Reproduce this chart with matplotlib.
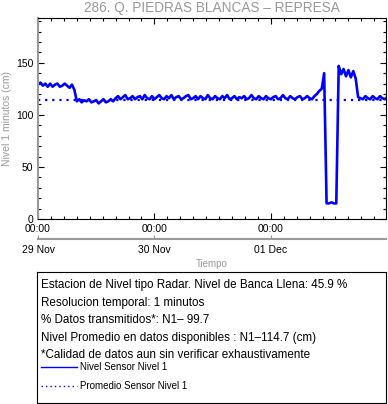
import numpy as np
import matplotlib.pyplot as plt
from matplotlib.ticker import MultipleLocator, FixedLocator

plt.rcParams['font.family'] = ['Liberation Sans', 'DejaVu Sans']

# ---- datos ----
titulo = '286. Q. PIEDRAS BLANCAS \u2013 REPRESA'
horas = np.arange(0, 72.01, 0.5)  # horas desde 29 Nov 00:00, cada 30 min
nivel = [129, 131, 128, 130, 127, 130, 127, 129, 130, 127, 128, 130, 128, 126, 129, 124,
         113, 115, 112, 114, 113, 115, 112, 113, 114, 111, 113, 115, 112, 113, 115, 113,
         116, 118, 115, 117, 119, 115, 116, 118, 115, 117, 118, 115, 119, 116, 115, 118, 115, 117, 119, 116,
         115, 118, 116, 119, 115, 117, 118, 115, 116, 118, 119, 115, 116, 118, 115, 118, 116, 115, 119, 116,
         115, 118, 116, 115, 118, 116, 119, 115, 116, 118, 115, 117, 116, 118, 115, 116, 119, 116, 115, 118,
         116, 115, 118, 116, 115, 117, 118, 115, 116, 119, 116, 115, 118, 116, 115, 117, 118, 115, 116, 118,
         116, 115, 118,
         120, 123, 125, 140, 15, 15, 16, 15, 15, 147, 139, 144, 137, 143, 136, 142, 135, 117,
         116, 115, 118, 116, 115, 118, 116, 115, 118, 116, 115, 117]
promedio = 114.7
dias_pos = [0, 24, 48]
horas_lbl = ['00:00', '00:00', '00:00']
dias_lbl = ['29 Nov', '30 Nov', '01 Dec']
info = ['Estacion de Nivel tipo Radar. Nivel de Banca Llena: 45.9 %',
        'Resolucion temporal: 1 minutos',
        '% Datos transmitidos*: N1\u2013 99.7',
        'Nivel Promedio en datos disponibles : N1\u2013114.7 (cm)',
        '*Calidad de datos aun sin verificar exhaustivamente']
leyenda = ['Nivel Sensor Nivel 1', 'Promedio Sensor Nivel 1']

gris = '#999999'
azul = '#0000ff'
W, H = 388, 404

fig = plt.figure(figsize=(W / 100, H / 100), dpi=100)
ax = fig.add_axes([38 / W, 1 - 219 / H, 348 / W, 201 / H])

l1, = ax.plot(horas, nivel, color=azul, lw=1.9)
l2 = ax.axhline(promedio, color=azul, lw=1.6, ls=(0, (1, 2.2)))

ax.set_xlim(0, 71.75)
ax.set_ylim(0, 193)
ax.yaxis.set_major_locator(FixedLocator([0, 50, 100, 150]))
ax.yaxis.set_minor_locator(MultipleLocator(10))
ax.xaxis.set_major_locator(FixedLocator(dias_pos))
ax.xaxis.set_minor_locator(MultipleLocator(24 / 9))
ax.set_xticklabels(horas_lbl)
ax.tick_params(which='both', direction='in', top=True, right=True, labelsize=7.5, pad=3.5)
ax.tick_params(which='major', length=4, width=0.8)
ax.tick_params(which='minor', length=2.5, width=0.8)
for s in ax.spines.values():
    s.set_linewidth(0.8)
ax.spines['left'].set_color(gris)
ax.spines['left'].set_linewidth(1.5)

# segundo nivel del eje de tiempo
sec = ax.secondary_xaxis(-20 / 201)
sec.set_xticks(dias_pos)
sec.set_xticklabels(dias_lbl)
sec.spines['bottom'].set_color(gris)
sec.spines['bottom'].set_linewidth(1.5)
sec.tick_params(direction='in', length=3, color=gris, labelsize=7.5, pad=4)

fig.text(212 / W, 1 - 8 / H, titulo, ha='center', va='center', color=gris, fontsize=9.8)
fig.text(212 / W, 1 - 264 / H, 'Tiempo', ha='center', va='center', color=gris, fontsize=7)
fig.text(7 / W, 1 - 118 / H, 'Nivel 1 minutos (cm)', ha='center', va='center',
         rotation=90, color=gris, fontsize=7.5)

# caja de informacion
box = fig.add_axes([37 / W, 1 / H, 349 / W, 131 / H])
box.set_xticks([])
box.set_yticks([])
for s in box.spines.values():
    s.set_linewidth(0.8)
filas_y = [285, 303, 320, 338, 355]
for txt, yy in zip(info, filas_y):
    box.text(4 / 349, (403 - yy) / 131, txt, transform=box.transAxes,
             ha='left', va='center', fontsize=8.4)

leg = fig.legend([l1, l2], leyenda, loc='upper left', bbox_to_anchor=(41 / W, 1 - 362 / H),
                 frameon=False, fontsize=7, handlelength=3.7, handletextpad=0.3,
                 labelspacing=0.95, borderpad=0, borderaxespad=0)
for ln in leg.get_lines():
    ln.set_linewidth(1.0)

fig.savefig('out.png', dpi=100)
